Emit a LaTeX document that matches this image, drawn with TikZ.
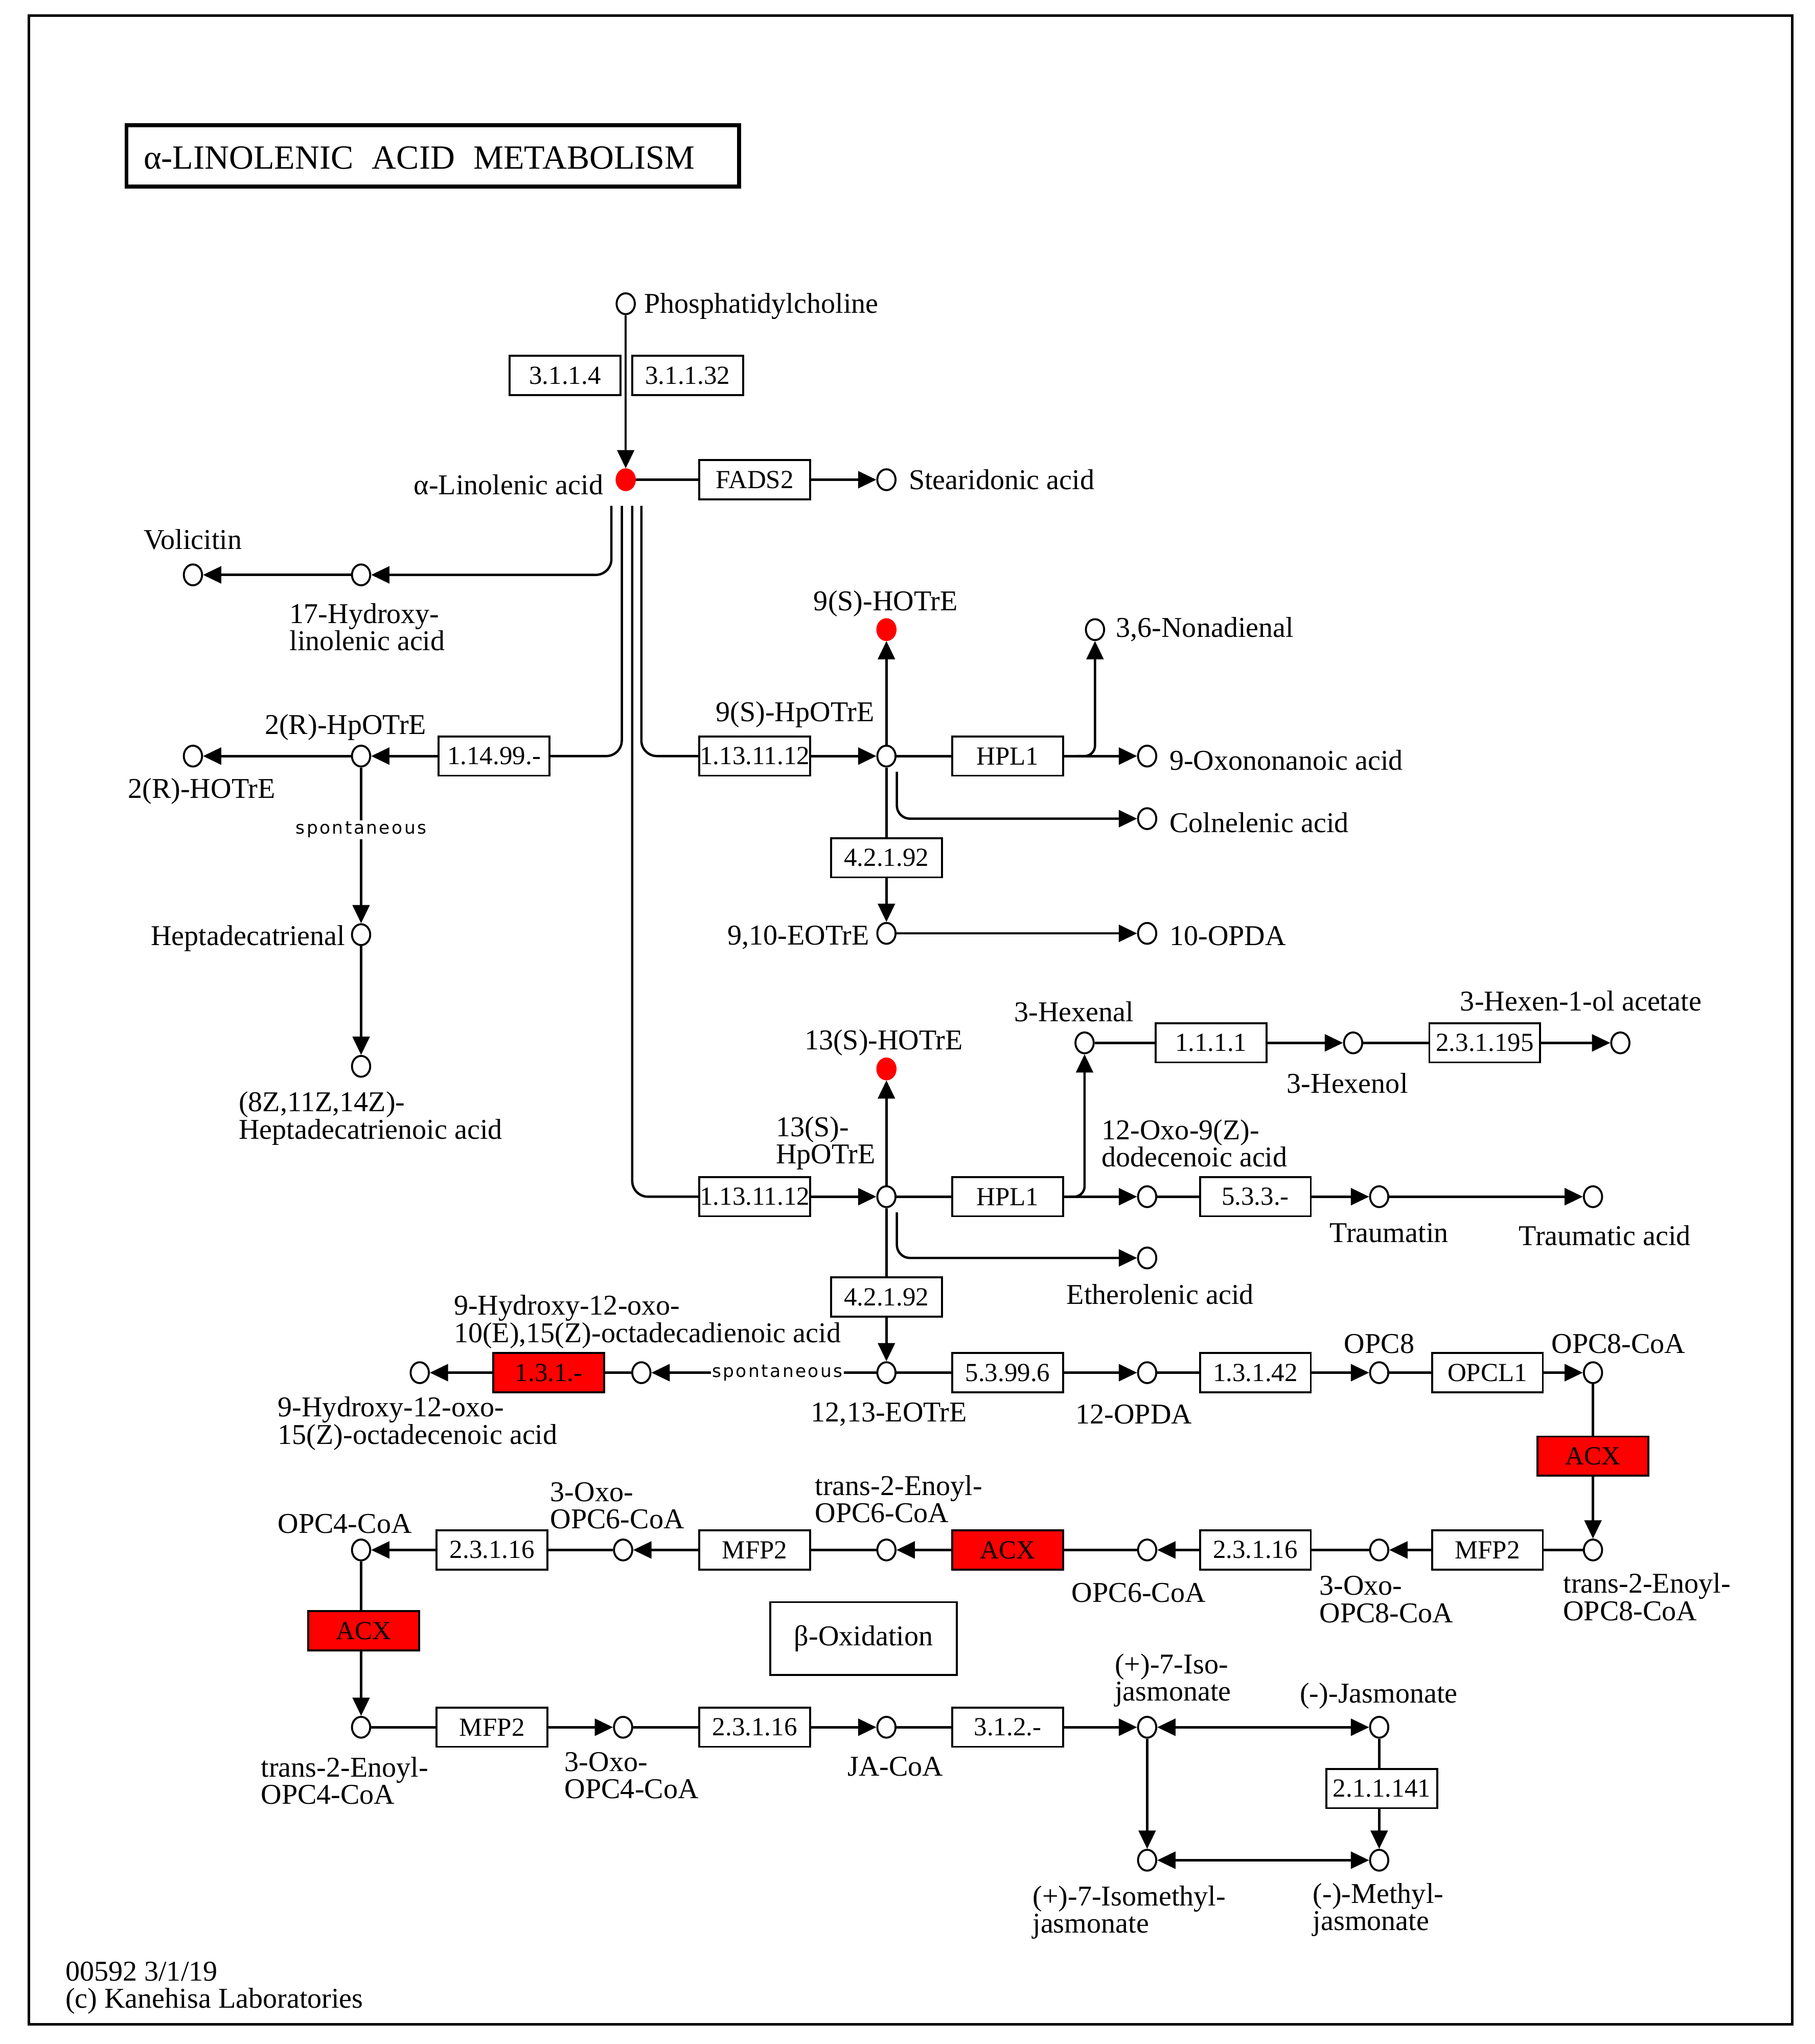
\documentclass[tikz,border=0pt]{standalone}
\usepackage{fontspec}
\setmainfont{Liberation Serif}
\newfontfamily\spfont[LetterSpace=10]{DejaVu Sans}
\usetikzlibrary{arrows.meta,shapes.geometric}
\newcommand\lblfont{\fontsize{22}{21}\selectfont}
\newcommand\enzfont{\fontsize{20}{20}\selectfont}
\newcommand\ttlfont{\fontsize{26}{26}\selectfont}
\begin{document}
\begin{tikzpicture}[x=1pt,y=-1pt,
  cpd/.style={ellipse, draw, line width=1.5pt, fill=white, minimum width=14pt, minimum height=16pt, inner sep=0pt},
  hit/.style={cpd, fill=red, draw=red},
  enz/.style={draw, line width=1.5pt, fill=white, minimum width=85pt, minimum height=30pt, inner sep=0pt, font=\enzfont},
  enzhit/.style={enz, fill=red},
  lbl/.style={inner sep=0pt, font=\lblfont, align=left},
  ln/.style={line width=1.8pt},
  arr/.style={ln, -{Triangle[length=14pt,width=13pt]}},
  dbl/.style={ln, {Triangle[length=14pt,width=13pt]}-{Triangle[length=14pt,width=13pt]}},
  spont/.style={fill=white, inner sep=1pt, font=\spfont\fontsize{13.5}{13.5}\selectfont}
]
\useasboundingbox (0,0) rectangle (1392,1568);
\draw[line width=2pt] (22,12) rectangle (1375,1553);

% title
\node[draw, line width=3pt, minimum width=470pt, minimum height=47pt, inner sep=0pt] (titlebox) at (332,119.5) {};
\node[anchor=west, inner sep=0pt, font=\ttlfont] (title) at (110,121) {α-LINOLENIC\hspace{0.55em}ACID\hspace{0.55em}METABOLISM};

% compounds
\node[cpd] (pc) at (480,233) {};
\node[hit] (ala) at (480,368) {};
\node[cpd] (sda) at (680,368) {};
\node[cpd] (hyd17) at (277,441) {};
\node[cpd] (vol) at (148,441) {};
\node[cpd] (hp2r) at (277,580) {};
\node[cpd] (ho2r) at (148,580) {};
\node[cpd] (hept) at (277,717) {};
\node[cpd] (heptac) at (277,818) {};
\node[cpd] (hp9) at (680,580) {};
\node[hit] (ho9) at (680,483) {};
\node[cpd] (non) at (840,483) {};
\node[cpd] (oxo9) at (880,580) {};
\node[cpd] (coln) at (880,628) {};
\node[cpd] (eot910) at (680,716) {};
\node[cpd] (opda10) at (880,716) {};
\node[cpd] (hp13) at (680,918) {};
\node[hit] (ho13) at (680,820) {};
\node[cpd] (hexal) at (832,800) {};
\node[cpd] (hexol) at (1038,800) {};
\node[cpd] (hexac) at (1243,800) {};
\node[cpd] (oxod) at (880,918) {};
\node[cpd] (traumatin) at (1058,918) {};
\node[cpd] (traumatic) at (1222,918) {};
\node[cpd] (ether) at (880,965) {};
\node[cpd] (eot1213) at (680,1053) {};
\node[cpd] (hod) at (492,1053) {};
\node[cpd] (hoe) at (322,1053) {};
\node[cpd] (opda12) at (880,1053) {};
\node[cpd] (opc8) at (1058,1053) {};
\node[cpd] (opc8coa) at (1222,1053) {};
\node[cpd] (t8) at (1222,1189) {};
\node[cpd] (oxo8) at (1058,1189) {};
\node[cpd] (opc6) at (880,1189) {};
\node[cpd] (t6) at (680,1189) {};
\node[cpd] (oxo6) at (478,1189) {};
\node[cpd] (opc4) at (277,1189) {};
\node[cpd] (t4) at (277,1325) {};
\node[cpd] (oxo4) at (478,1325) {};
\node[cpd] (jacoa) at (680,1325) {};
\node[cpd] (iso) at (880,1325) {};
\node[cpd] (ja) at (1058,1325) {};
\node[cpd] (isome) at (880,1427) {};
\node[cpd] (meja) at (1058,1427) {};

% enzymes
\node[enz] (e31114) at (433.5,288) {3.1.1.4};
\node[enz] (e311132) at (527.5,288) {3.1.1.32};
\node[enz] (efads) at (579,368) {FADS2};
\node[enz] (e11499) at (379,580) {1.14.99.-};
\node[enz] (e131112a) at (579,580) {1.13.11.12};
\node[enz] (ehpl1a) at (773,580) {HPL1};
\node[enz] (e42192a) at (680,658) {4.2.1.92};
\node[enz] (e131112b) at (579,918) {1.13.11.12};
\node[enz] (ehpl1b) at (773,918) {HPL1};
\node[enz] (e1111) at (929,800) {1.1.1.1};
\node[enz] (e231195) at (1139,800) {2.3.1.195};
\node[enz] (e533) at (963,918) {5.3.3.-};
\node[enz] (e42192b) at (680,995) {4.2.1.92};
\node[enzhit] (e131) at (421,1053) {1.3.1.-};
\node[enz] (e53996) at (773,1053) {5.3.99.6};
\node[enz] (e13142) at (963,1053) {1.3.1.42};
\node[enz] (eopcl) at (1141,1053) {OPCL1};
\node[enzhit] (eacx1) at (1222,1117) {ACX};
\node[enz] (emfp2a) at (1141,1189) {MFP2};
\node[enz] (e23116a) at (963,1189) {2.3.1.16};
\node[enzhit] (eacx2) at (773,1189) {ACX};
\node[enz] (emfp2b) at (579,1189) {MFP2};
\node[enz] (e23116b) at (377.5,1189) {2.3.1.16};
\node[enzhit] (eacx3) at (279,1251) {ACX};
\node[enz] (emfp2c) at (377.5,1325) {MFP2};
\node[enz] (e23116c) at (579,1325) {2.3.1.16};
\node[enz] (e312) at (773,1325) {3.1.2.-};
\node[enz] (e211141) at (1060,1372) {2.1.1.141};

\node[draw, line width=1.5pt, minimum width=143pt, minimum height=56pt, inner sep=0pt, font=\lblfont] (boxbeta) at (662.5,1257) {β-Oxidation};

% branch points
\coordinate (br1) at (469,388);
\coordinate (br2) at (477,388);
\coordinate (br3) at (485,388);
\coordinate (br4) at (492,388);
\coordinate (c9) at (688,592);
\coordinate (c13) at (688,930);
\coordinate (nb) at (826,580);
\coordinate (hb) at (820,918);

% connectors
\draw[arr] (pc) -- (ala);
\draw[ln] (ala) -- (efads);
\draw[arr] (efads) -- (sda);
\draw[arr, rounded corners=12pt] (br1) |- (hyd17);
\draw[ln, rounded corners=12pt] (br2) |- (e11499);
\draw[ln, rounded corners=12pt] (br3) |- (e131112b);
\draw[ln, rounded corners=12pt] (br4) |- (e131112a);
\draw[arr] (hyd17) -- (vol);
\draw[arr] (e11499) -- (hp2r);
\draw[arr] (hp2r) -- (ho2r);
\draw[arr] (hp2r) -- node[spont, pos=0.4] (sp1) {spontaneous} (hept);
\draw[arr] (hept) -- (heptac);

\draw[arr] (e131112a) -- (hp9);
\draw[arr] (hp9) -- (ho9);
\draw[ln] (hp9) -- (ehpl1a);
\draw[arr] (ehpl1a) -- (oxo9);
\draw[arr, rounded corners=8pt] (nb) -| (non);
\draw[ln] (hp9) -- (e42192a);
\draw[arr] (e42192a) -- (eot910);
\draw[arr, rounded corners=10pt] (c9) |- (coln);
\draw[arr] (eot910) -- (opda10);

\draw[arr] (e131112b) -- (hp13);
\draw[arr] (hp13) -- (ho13);
\draw[ln] (hp13) -- (ehpl1b);
\draw[arr] (ehpl1b) -- (oxod);
\draw[arr, rounded corners=8pt] (hb) -| (hexal);
\draw[ln] (hexal) -- (e1111);
\draw[arr] (e1111) -- (hexol);
\draw[ln] (hexol) -- (e231195);
\draw[arr] (e231195) -- (hexac);
\draw[ln] (oxod) -- (e533);
\draw[arr] (e533) -- (traumatin);
\draw[arr] (traumatin) -- (traumatic);
\draw[ln] (hp13) -- (e42192b);
\draw[arr] (e42192b) -- (eot1213);
\draw[arr, rounded corners=10pt] (c13) |- (ether);

\draw[arr] (eot1213) -- node[spont, pos=0.44] (sp2) {spontaneous} (hod);
\draw[ln] (hod) -- (e131);
\draw[arr] (e131) -- (hoe);
\draw[ln] (eot1213) -- (e53996);
\draw[arr] (e53996) -- (opda12);
\draw[ln] (opda12) -- (e13142);
\draw[arr] (e13142) -- (opc8);
\draw[ln] (opc8) -- (eopcl);
\draw[arr] (eopcl) -- (opc8coa);
\draw[ln] (opc8coa) -- (opc8coa |- eacx1.north);
\draw[arr] (eacx1.south -| t8) -- (t8);

\draw[ln] (t8) -- (emfp2a);
\draw[arr] (emfp2a) -- (oxo8);
\draw[ln] (oxo8) -- (e23116a);
\draw[arr] (e23116a) -- (opc6);
\draw[ln] (opc6) -- (eacx2);
\draw[arr] (eacx2) -- (t6);
\draw[ln] (t6) -- (emfp2b);
\draw[arr] (emfp2b) -- (oxo6);
\draw[ln] (oxo6) -- (e23116b);
\draw[arr] (e23116b) -- (opc4);
\draw[ln] (opc4) -- (opc4 |- eacx3.north);
\draw[arr] (eacx3.south -| t4) -- (t4);

\draw[ln] (t4) -- (emfp2c);
\draw[arr] (emfp2c) -- (oxo4);
\draw[ln] (oxo4) -- (e23116c);
\draw[arr] (e23116c) -- (jacoa);
\draw[ln] (jacoa) -- (e312);
\draw[arr] (e312) -- (iso);
\draw[dbl] (iso) -- (ja);
\draw[arr] (iso) -- (isome);
\draw[ln] (ja) -- (ja |- e211141.north);
\draw[arr] (e211141.south -| meja) -- (meja);
\draw[dbl] (isome) -- (meja);

% labels
\node[lbl, anchor=west] (l-pc) at (494,235) {Phosphatidylcholine};
\node[lbl, anchor=east] (l-ala) at (463,372) {α-Linolenic acid};
\node[lbl, anchor=west] (l-sda) at (697,368) {Stearidonic acid};
\node[lbl, anchor=west] (l-vol) at (110,414) {Volicitin};
\node[lbl, anchor=west] (l-hyd17) at (222,481) {17-Hydroxy-\\linolenic acid};
\node[lbl, anchor=west] (l-hp2r) at (203,558) {2(R)-HpOTrE};
\node[lbl, anchor=west] (l-ho2r) at (98,607) {2(R)-HOTrE};
\node[lbl, anchor=east] (l-hept) at (265,720) {Heptadecatrienal};
\node[lbl, anchor=west] (l-heptac) at (183,858) {(8Z,11Z,14Z)-\\Heptadecatrienoic acid};
\node[lbl, anchor=west] (l-ho9) at (624,463) {9(S)-HOTrE};
\node[lbl, anchor=west] (l-hp9) at (549,548) {9(S)-HpOTrE};
\node[lbl, anchor=west] (l-non) at (856,483) {3,6-Nonadienal};
\node[lbl, anchor=west] (l-oxo9) at (897,583) {9-Oxononanoic acid};
\node[lbl, anchor=west] (l-coln) at (897,631) {Colnelenic acid};
\node[lbl, anchor=east] (l-eot910) at (667,719) {9,10-EOTrE};
\node[lbl, anchor=west] (l-opda10) at (897,718) {10-OPDA};
\node[lbl, anchor=west] (l-ho13) at (617,800) {13(S)-HOTrE};
\node[lbl, anchor=west] (l-hp13) at (595,877) {13(S)-\\HpOTrE};
\node[lbl, anchor=west] (l-hexal) at (778,776) {3-Hexenal};
\node[lbl, anchor=west] (l-hexol) at (987,831) {3-Hexenol};
\node[lbl, anchor=west] (l-hexac) at (1120,768) {3-Hexen-1-ol acetate};
\node[lbl, anchor=west] (l-oxod) at (845,877) {12-Oxo-9(Z)-\\dodecenoic acid};
\node[lbl, anchor=west] (l-traumatin) at (1020,946) {Traumatin};
\node[lbl, anchor=west] (l-traumatic) at (1165,948) {Traumatic acid};
\node[lbl, anchor=west] (l-ether) at (818,993) {Etherolenic acid};
\node[lbl, anchor=west] (l-hod) at (348,1014) {9-Hydroxy-12-oxo-\\10(E),15(Z)-octadecadienoic acid};
\node[lbl, anchor=west] (l-hoe) at (213,1092) {9-Hydroxy-12-oxo-\\15(Z)-octadecenoic acid};
\node[lbl, anchor=west] (l-eot1213) at (622,1085) {12,13-EOTrE};
\node[lbl, anchor=west] (l-opda12) at (825,1085) {12-OPDA};
\node[lbl, anchor=west] (l-opc8) at (1031,1031) {OPC8};
\node[lbl, anchor=west] (l-opc8coa) at (1190,1031) {OPC8-CoA};
\node[lbl, anchor=west] (l-t8) at (1199,1225) {trans-2-Enoyl-\\OPC8-CoA};
\node[lbl, anchor=west] (l-oxo8) at (1012,1227) {3-Oxo-\\OPC8-CoA};
\node[lbl, anchor=west] (l-opc6) at (822,1222) {OPC6-CoA};
\node[lbl, anchor=west] (l-t6) at (625,1150) {trans-2-Enoyl-\\OPC6-CoA};
\node[lbl, anchor=west] (l-oxo6) at (422,1155) {3-Oxo-\\OPC6-CoA};
\node[lbl, anchor=west] (l-opc4) at (213,1169) {OPC4-CoA};
\node[lbl, anchor=west] (l-t4) at (200,1366) {trans-2-Enoyl-\\OPC4-CoA};
\node[lbl, anchor=west] (l-oxo4) at (433,1362) {3-Oxo-\\OPC4-CoA};
\node[lbl, anchor=west] (l-jacoa) at (650,1355) {JA-CoA};
\node[lbl, anchor=west] (l-iso) at (855,1289) {(+)-7-Iso-\\jasmonate};
\node[lbl, anchor=west] (l-ja) at (997,1301) {(-)-Jasmonate};
\node[lbl, anchor=west] (l-isome) at (792,1467) {(+)-7-Isomethyl-\\jasmonate};
\node[lbl, anchor=west] (l-meja) at (1007,1465) {(-)-Methyl-\\jasmonate};
\node[lbl, anchor=west] (foot) at (50,1525) {00592 3/1/19\\(c) Kanehisa Laboratories};
\end{tikzpicture}
\end{document}
